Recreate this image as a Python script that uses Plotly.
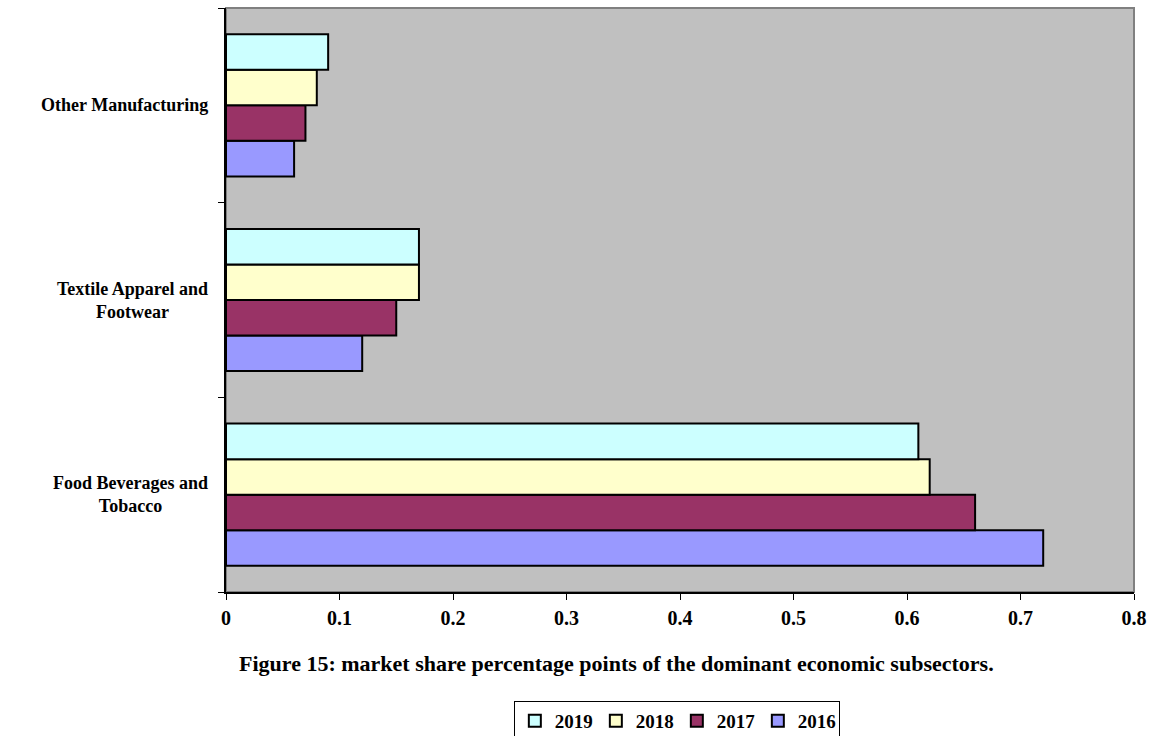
import plotly.graph_objects as go

# Subsectors (bottom to top) and market share by year
subsectors = ["Food Beverages and Tobacco", "Textile Apparel and Footwear", "Other Manufacturing"]
subsector_labels = ["Food Beverages and<br>Tobacco", "Textile Apparel and<br>Footwear", "Other Manufacturing"]
years = ["2016", "2017", "2018", "2019"]
share_2016 = [0.72, 0.12, 0.06]
share_2017 = [0.66, 0.15, 0.07]
share_2018 = [0.62, 0.17, 0.08]
share_2019 = [0.61, 0.17, 0.09]
year_colors = ["#9999FF", "#993366", "#FFFFCC", "#CCFFFF"]
x_ticks = [0, 0.1, 0.2, 0.3, 0.4, 0.5, 0.6, 0.7, 0.8]

FONT = "Liberation Serif, Times New Roman, serif"

fig = go.Figure()
for year, values, color in zip(years, [share_2016, share_2017, share_2018, share_2019], year_colors):
    fig.add_trace(go.Bar(
        y=subsectors, x=values, name=year, orientation="h",
        marker=dict(color=color, line=dict(color="black", width=2)),
    ))

# Category labels, centred on each line, left of the plot area
for name, label in zip(subsectors, subsector_labels):
    fig.add_annotation(
        xref="paper", yref="y", x=0, y=name, text=label, showarrow=False,
        xanchor="right", xshift=-16, align="center",
        font=dict(family=FONT, size=18, color="black", weight="bold"),
    )

# Caption under the chart
fig.add_annotation(
    xref="paper", yref="paper", x=0.43, y=-0.122, yanchor="middle",
    text="Figure 15: market share percentage points of the dominant economic subsectors.",
    showarrow=False, font=dict(family=FONT, size=22, color="black", weight="bold"),
)

# Grey frame on the top and right of the plot area
fig.add_shape(type="rect", xref="paper", yref="paper", x0=0, x1=1, y0=0, y1=1,
              line=dict(color="#808080", width=2), layer="below")

fig.update_layout(
    width=1151, height=736,
    margin=dict(l=226, r=17, t=8, b=144, autoexpand=False),
    paper_bgcolor="white", plot_bgcolor="#C0C0C0",
    barmode="group", bargap=0.27, bargroupgap=0,
    font=dict(family=FONT, size=18, color="black"),
    xaxis=dict(
        range=[0, 0.8], tickvals=x_ticks, ticktext=[f"{v:g}" for v in x_ticks],
        showgrid=False, zeroline=False, showline=True, linecolor="black", linewidth=1.5,
        ticks="outside", ticklen=6, tickcolor="black", ticklabelstandoff=1,
        tickfont=dict(family=FONT, size=20, color="black", weight="bold"),
        automargin=False,
    ),
    yaxis=dict(
        categoryorder="array", categoryarray=subsectors,
        showticklabels=False, tickson="boundaries",
        showgrid=False, zeroline=False, showline=True, linecolor="black", linewidth=1.5,
        ticks="outside", ticklen=6, tickcolor="black", automargin=False,
    ),
    legend=dict(
        orientation="h", traceorder="reversed",
        x=0.317, xanchor="left", y=-0.1866, yanchor="top",
        bordercolor="black", borderwidth=1, bgcolor="white",
        font=dict(family=FONT, size=19, color="black", weight="bold"),
        itemwidth=30, entrywidth=36,
    ),
    showlegend=True,
)

fig.write_html("out.html")
